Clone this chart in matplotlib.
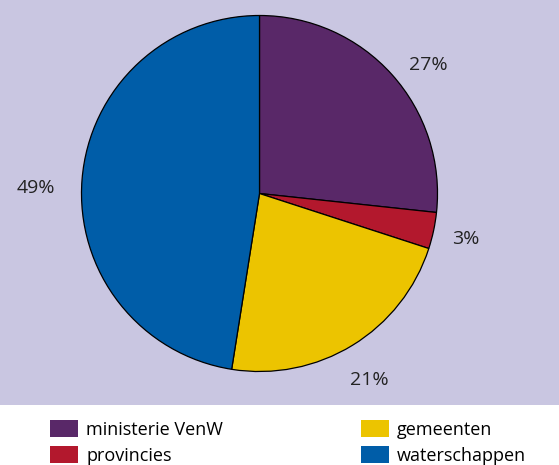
import matplotlib.pyplot as plt
from matplotlib.patches import Rectangle

plt.rcParams["font.family"] = ["Open Sans", "DejaVu Sans"]

# shares as measured from the wedge angles, labels as printed
categories = ["ministerie VenW", "provincies", "gemeenten", "waterschappen"]
shares = [26.7, 3.3, 22.5, 47.5]
pct_labels = ["27%", "3%", "21%", "49%"]
colors = ["#592868", "#b3182d", "#ecc400", "#005da8"]

W, H = 559, 465
fig = plt.figure(figsize=(W / 100, H / 100), dpi=100)
fig.patch.set_facecolor("white")

# lavender panel behind the pie
fig.patches.append(
    Rectangle((0, 1 - 405 / H), 1, 405 / H, transform=fig.transFigure,
              facecolor="#c9c6e1", edgecolor="none", zorder=-1)
)

r_px = 178
cx, cy = 259.5, 193.5
ax = fig.add_axes([(cx - r_px) / W, (H - cy - r_px) / H, 2 * r_px / W, 2 * r_px / H])
ax.set_facecolor("none")
ax.set_zorder(2)

wedges, texts = ax.pie(
    shares,
    labels=pct_labels,
    colors=colors,
    startangle=90,
    counterclock=False,
    labeldistance=1.2,
    wedgeprops=dict(edgecolor="black", linewidth=0.9),
    textprops=dict(fontsize=14, color="#222222"),
)
# label placement as in the original (axes units, radius = 1)
label_pos = [(0.95, 0.72), (1.16, -0.255), (0.615, -1.045), (-1.255, 0.03)]
for t, p in zip(texts, label_pos):
    t.set_position(p)
    t.set_ha("center")
    t.set_va("center")
ax.set_xlim(-1, 1)
ax.set_ylim(-1, 1)
ax.set_aspect("equal")

leg = fig.legend(
    wedges, categories,
    loc="upper left",
    bbox_to_anchor=(50 / W, 1 - 420 / H),
    ncol=2,
    frameon=False,
    fontsize=13,
    handlelength=1.55,
    handleheight=1.05,
    handletextpad=0.45,
    columnspacing=7.62,
    labelspacing=0.42,
    borderpad=0,
    borderaxespad=0,
)
leg.set_zorder(3)
for h in leg.legend_handles:
    h.set_edgecolor("none")

fig.savefig("out.png", dpi=100)
